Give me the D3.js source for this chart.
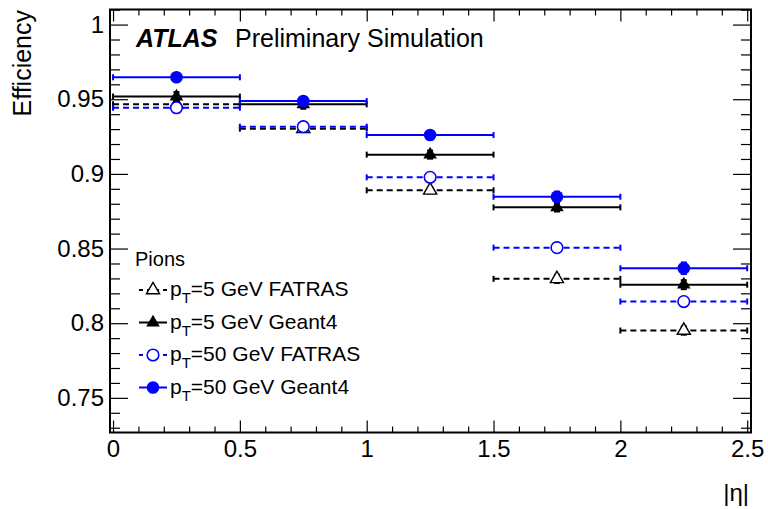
<!DOCTYPE html>
<html>
<head>
<meta charset="utf-8">
<script src="https://cdn.jsdelivr.net/npm/d3@7"></script>
<style>
  body { margin: 0; background: #fff; }
  svg { font-family: "Liberation Sans", Arial, Helvetica, sans-serif; }
</style>
</head>
<body>
<div id="chart"></div>
<script>
// bins in |eta|
var binEdges = [0, 0.5, 1, 1.5, 2, 2.5]

// efficiencies
var fatras5 = [0.9466, 0.9303, 0.8890, 0.8297, 0.7951]
var fatras5Err = [0.002, 0.002, 0.002, 0.0027, 0.0028]
var geant5 = [0.9518, 0.9466, 0.9129, 0.8776, 0.8258]
var geant5Err = [0.003, 0.003, 0.0027, 0.0028, 0.003]
var fatras50 = [0.9443, 0.9316, 0.8977, 0.8506, 0.8145]
var fatras50Err = [0.0015, 0.002, 0.0022, 0.0027, 0.0028]
var geant50 = [0.9647, 0.9488, 0.9260, 0.8847, 0.8368]
var geant50Err = [0.0015, 0.002, 0.0026, 0.0034, 0.0039]

var xMajor = [0, 0.5, 1, 1.5, 2, 2.5]
var yMajor = [0.75, 0.8, 0.85, 0.9, 0.95, 1]

var legendLabels = ['=5 GeV FATRAS', '=5 GeV Geant4', '=50 GeV FATRAS', '=50 GeV Geant4']

var width = 768, height = 509
var frame = {left: 110, top: 9.5, right: 751, bottom: 432.5}

var svg = d3.select('#chart').append('svg')
    .attr('width', width)
    .attr('height', height)

var x = d3.scaleLinear().domain([-0.012, 2.515]).range([frame.left, frame.right])
var y = d3.scaleLinear().domain([0.7268, 1.0101]).range([frame.bottom, frame.top])

var xMinor = d3.range(0, 2.51, 0.1).filter(function(v) { return Math.abs(v*2 - Math.round(v*2)) > 1e-6 })
var yMinor = d3.range(0.73, 1.011, 0.01).filter(function(v) { return Math.abs(v*20 - Math.round(v*20)) > 1e-6 })

function styleAxis(g) {
  g.select('.domain').remove()
  g.selectAll('line').attr('stroke', '#000').attr('stroke-width', 1.2)
  g.selectAll('text').attr('fill', '#000').style('font-size', '24px')
    .style('font-family', '"Liberation Sans", Arial, sans-serif')
}

// bottom
svg.append('g').attr('transform', 'translate(0,' + frame.bottom + ')')
  .call(d3.axisBottom(x).tickValues(xMajor).tickSize(-12).tickPadding(7)
    .tickFormat(function(d) { return d3.format('')(d) }))
  .call(styleAxis)
svg.append('g').attr('transform', 'translate(0,' + frame.bottom + ')')
  .call(d3.axisBottom(x).tickValues(xMinor).tickSize(-6).tickFormat(''))
  .call(styleAxis)
// top
svg.append('g').attr('transform', 'translate(0,' + frame.top + ')')
  .call(d3.axisTop(x).tickValues(xMajor).tickSize(-12).tickFormat(''))
  .call(styleAxis)
svg.append('g').attr('transform', 'translate(0,' + frame.top + ')')
  .call(d3.axisTop(x).tickValues(xMinor).tickSize(-6).tickFormat(''))
  .call(styleAxis)
// left
svg.append('g').attr('transform', 'translate(' + frame.left + ',0)')
  .call(d3.axisLeft(y).tickValues(yMajor).tickSize(-18).tickPadding(6)
    .tickFormat(function(d) { return d3.format('')(d) }))
  .call(styleAxis)
svg.append('g').attr('transform', 'translate(' + frame.left + ',0)')
  .call(d3.axisLeft(y).tickValues(yMinor).tickSize(-10).tickFormat(''))
  .call(styleAxis)
// right
svg.append('g').attr('transform', 'translate(' + frame.right + ',0)')
  .call(d3.axisRight(y).tickValues(yMajor).tickSize(-18).tickFormat(''))
  .call(styleAxis)
svg.append('g').attr('transform', 'translate(' + frame.right + ',0)')
  .call(d3.axisRight(y).tickValues(yMinor).tickSize(-10).tickFormat(''))
  .call(styleAxis)

svg.append('rect')
  .attr('x', frame.left).attr('y', frame.top)
  .attr('width', frame.right - frame.left).attr('height', frame.bottom - frame.top)
  .attr('fill', 'none').attr('stroke', '#000').attr('stroke-width', 2)

// axis titles
svg.append('text')
  .attr('transform', 'translate(31,' + (frame.top + 0.5) + ') rotate(-90)')
  .attr('text-anchor', 'end')
  .style('font-size', '25px')
  .text('Efficiency')

svg.append('text')
  .attr('x', 749).attr('y', 501)
  .attr('text-anchor', 'end')
  .style('font-size', '24px')
  .text('|η|')

// ATLAS label
svg.append('text')
  .attr('x', 136).attr('y', 47)
  .style('font-size', '25px').style('font-weight', 'bold').style('font-style', 'italic')
  .text('ATLAS')
svg.append('text')
  .attr('x', 235).attr('y', 47)
  .style('font-size', '25px')
  .text('Preliminary Simulation')

var series = [
  {vals: fatras5, errs: fatras5Err, color: '#000', dashed: true, marker: 'triangle', filled: false},
  {vals: geant5, errs: geant5Err, color: '#000', dashed: false, marker: 'triangle', filled: true},
  {vals: fatras50, errs: fatras50Err, color: '#0000ff', dashed: true, marker: 'circle', filled: false},
  {vals: geant50, errs: geant50Err, color: '#0000ff', dashed: false, marker: 'circle', filled: true}
]

function drawMarker(g, s, cx, cy) {
  if (s.marker === 'circle') {
    g.append('circle').attr('cx', cx).attr('cy', cy).attr('r', s.filled ? 6.3 : 5.8)
      .attr('fill', s.filled ? s.color : '#fff')
      .attr('stroke', s.color).attr('stroke-width', s.filled ? 0 : 1.6)
  } else {
    g.append('path').attr('d', d3.symbol().type(d3.symbolTriangle).size(s.filled ? 80 : 75)())
      .attr('transform', 'translate(' + cx + ',' + cy + ')')
      .attr('fill', s.filled ? s.color : '#fff')
      .attr('stroke', s.color).attr('stroke-width', s.filled ? 0 : 1.4)
  }
}

series.forEach(function(s) {
  var g = svg.append('g')
  s.vals.forEach(function(v, i) {
    var x0 = x(binEdges[i]), x1 = x(binEdges[i+1])
    var cx = x((binEdges[i] + binEdges[i+1]) / 2)
    var cy = y(v)
    g.append('line').attr('x1', x0).attr('x2', x1).attr('y1', cy).attr('y2', cy)
      .attr('stroke', s.color).attr('stroke-width', 2)
      .attr('stroke-dasharray', s.dashed ? '6,4' : null)
    ;[x0, x1].forEach(function(xe) {
      g.append('line').attr('x1', xe).attr('x2', xe).attr('y1', cy - 3).attr('y2', cy + 3)
        .attr('stroke', s.color).attr('stroke-width', 2)
    })
    var ylo = y(v - s.errs[i]), yhi = y(v + s.errs[i])
    g.append('line').attr('x1', cx).attr('x2', cx).attr('y1', ylo).attr('y2', yhi)
      .attr('stroke', s.color).attr('stroke-width', 2)
    ;[ylo, yhi].forEach(function(ye) {
      g.append('line').attr('x1', cx - 3).attr('x2', cx + 3).attr('y1', ye).attr('y2', ye)
        .attr('stroke', s.color).attr('stroke-width', 2)
    })
    drawMarker(g, s, cx, cy)
  })
})

// legend
var leg = svg.append('g')
leg.append('text').attr('x', 135).attr('y', 266).style('font-size', '20px').text('Pions')
series.forEach(function(s, i) {
  var ly = 290 + i * 32.5
  var row = leg.append('g')
  row.append('line').attr('x1', 139).attr('x2', 167).attr('y1', ly).attr('y2', ly)
    .attr('stroke', s.color).attr('stroke-width', 2)
    .attr('stroke-dasharray', s.dashed ? '4,4' : null)
  drawMarker(row, s, 153, ly)
  var t = row.append('text').attr('x', 170).attr('y', ly + 6).style('font-size', '21px')
  t.append('tspan').text('p')
  t.append('tspan').attr('dy', 7).style('font-size', '15px').text('T')
  t.append('tspan').attr('dy', -7).text(legendLabels[i])
})
</script>
</body>
</html>
